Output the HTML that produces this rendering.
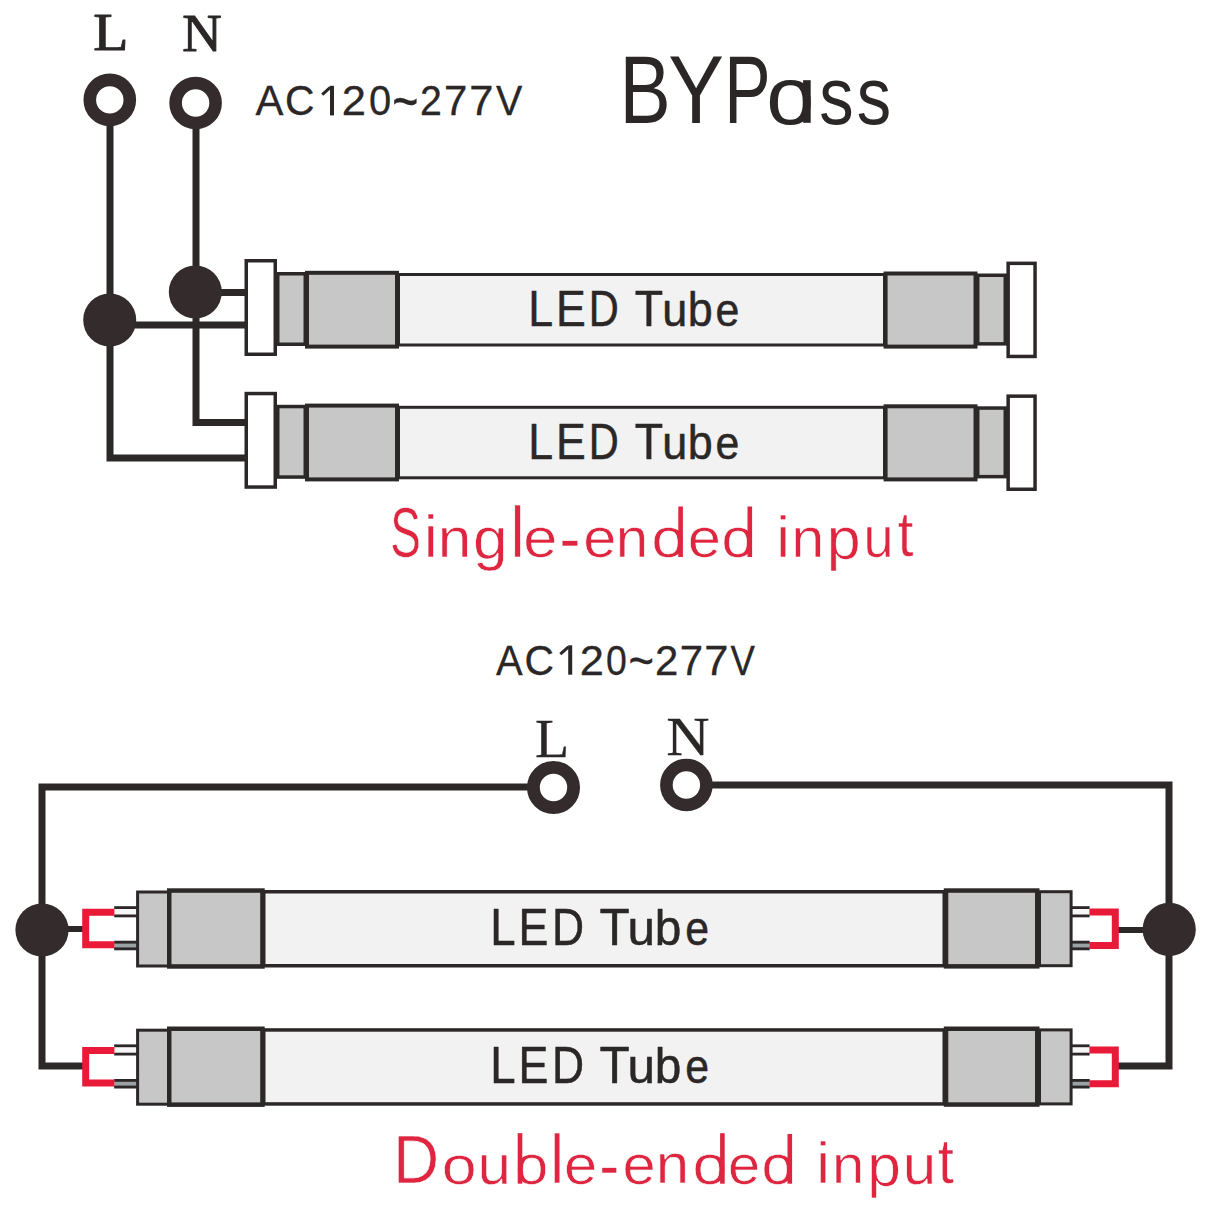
<!DOCTYPE html>
<html><head><meta charset="utf-8"><title>BYPass wiring</title>
<style>
html,body{margin:0;padding:0;background:#ffffff;width:1214px;height:1214px;overflow:hidden;font-family:"Liberation Sans",sans-serif;}
svg{display:block;}
</style></head><body>
<svg width="1214" height="1214" viewBox="0 0 1214 1214">
<rect width="1214" height="1214" fill="#ffffff"/>
<g font-family="Liberation Serif" fill="#2b2727" stroke="#2b2727" stroke-width="1.0" stroke-linejoin="round"><text transform="translate(93.34,50.00) scale(1.1069,1)" font-size="51.93">L</text><text transform="translate(182.33,50.50) scale(1.0361,1)" font-size="52.69">N</text></g>
<g font-family="Liberation Sans" fill="#2b2727" stroke="#2b2727" stroke-width="0.3" stroke-linejoin="round"><text transform="translate(255.52,115.20) scale(0.9912,1)" font-size="42.30">A</text><text transform="translate(285.02,115.28) scale(0.9620,1)" font-size="42.51">C</text><text transform="translate(341.71,115.20) scale(1.0252,1)" font-size="42.39">2</text><text transform="translate(368.94,115.28) scale(0.9398,1)" font-size="42.51">0</text><text transform="translate(392.28,121.41) scale(0.7530,1)" font-size="59.67">~</text><text transform="translate(420.12,115.20) scale(0.9269,1)" font-size="42.39">2</text><text transform="translate(444.05,115.20) scale(0.9933,1)" font-size="42.30">7</text><text transform="translate(469.27,115.20) scale(1.0298,1)" font-size="42.30">7</text><text transform="translate(496.03,115.20) scale(0.9339,1)" font-size="42.30">V</text></g>
<g font-family="Liberation Sans" fill="#2b2727"><text transform="translate(619.60,122.80) scale(0.7938,1)" font-size="96.80">B</text><text transform="translate(668.27,122.80) scale(0.8622,1)" font-size="96.80">Y</text><text transform="translate(724.30,122.80) scale(0.7181,1)" font-size="96.80">P</text><text transform="translate(766.16,123.81) scale(1.0688,1)" font-size="81.04">o</text><text transform="translate(819.19,123.81) scale(0.8467,1)" font-size="81.26">s</text><text transform="translate(856.69,123.81) scale(0.8467,1)" font-size="81.26">s</text></g><g fill="#2b2727"><rect x="803.10" y="80.20" width="7.60" height="42.60"/></g>
<path d="M330.00,85.80 H334.00 V115.40 H330.00 Z" fill="#2b2727"/>
<path d="M330.30,87.30 L322.20,94.68" stroke="#2b2727" stroke-width="3.0" fill="none"/>
<path d="M110,126 L110,458 L245,458" fill="none" stroke="#2d2828" stroke-width="7" stroke-linejoin="miter" stroke-linecap="square"/>
<path d="M196,128 L196,422.5 L245,422.5" fill="none" stroke="#2d2828" stroke-width="7" stroke-linejoin="miter" stroke-linecap="square"/>
<path d="M110,325 L245,325" fill="none" stroke="#2d2828" stroke-width="7" stroke-linejoin="miter" stroke-linecap="square"/>
<path d="M196,292.4 L245,292.4" fill="none" stroke="#2d2828" stroke-width="7" stroke-linejoin="miter" stroke-linecap="square"/>
<circle cx="109.8" cy="99.9" r="20.00" fill="#ffffff" stroke="#342b2d" stroke-width="12.60"/>
<circle cx="195.6" cy="103" r="20.00" fill="#ffffff" stroke="#342b2d" stroke-width="12.60"/>
<circle cx="109.7" cy="320" r="26.5" fill="#342b2d"/>
<circle cx="195.3" cy="292" r="26.5" fill="#342b2d"/>
<rect x="398.50" y="274.50" width="486.00" height="70.50" fill="#f2f2f2" stroke="#2d2828" stroke-width="3"/>
<rect x="277.75" y="273.75" width="27.50" height="70.50" fill="#c8c7c7" stroke="#2d2828" stroke-width="3.5"/>
<rect x="307.00" y="272.80" width="90.00" height="73.80" fill="#c8c7c7" stroke="#2d2828" stroke-width="4"/>
<rect x="246.25" y="260.75" width="29.00" height="93.50" fill="#ffffff" stroke="#2d2828" stroke-width="3.5"/>
<rect x="977.75" y="275.25" width="27.50" height="68.60" fill="#c8c7c7" stroke="#2d2828" stroke-width="3.5"/>
<rect x="885.60" y="273.50" width="89.90" height="73.10" fill="#c8c7c7" stroke="#2d2828" stroke-width="4"/>
<rect x="1008.15" y="263.35" width="26.90" height="93.10" fill="#ffffff" stroke="#2d2828" stroke-width="3.5"/>
<rect x="398.50" y="407.30" width="486.00" height="70.50" fill="#f2f2f2" stroke="#2d2828" stroke-width="3"/>
<rect x="277.75" y="406.55" width="27.50" height="70.50" fill="#c8c7c7" stroke="#2d2828" stroke-width="3.5"/>
<rect x="307.00" y="405.60" width="90.00" height="73.80" fill="#c8c7c7" stroke="#2d2828" stroke-width="4"/>
<rect x="246.25" y="393.55" width="29.00" height="93.50" fill="#ffffff" stroke="#2d2828" stroke-width="3.5"/>
<rect x="977.75" y="408.05" width="27.50" height="68.60" fill="#c8c7c7" stroke="#2d2828" stroke-width="3.5"/>
<rect x="885.60" y="406.30" width="89.90" height="73.10" fill="#c8c7c7" stroke="#2d2828" stroke-width="4"/>
<rect x="1008.15" y="396.15" width="26.90" height="93.10" fill="#ffffff" stroke="#2d2828" stroke-width="3.5"/>
<g font-family="Liberation Sans" fill="#2b2727" stroke="#2b2727" stroke-width="0.5" stroke-linejoin="round"><text transform="translate(528.23,326.00) scale(0.8858,1)" font-size="50.44">L</text><text transform="translate(555.94,326.00) scale(0.8853,1)" font-size="50.44">E</text><text transform="translate(588.79,326.00) scale(0.8235,1)" font-size="50.44">D</text><text transform="translate(634.76,326.00) scale(0.9196,1)" font-size="50.58">T</text><text transform="translate(662.28,325.94) scale(0.9563,1)" font-size="47.02">u</text><text transform="translate(687.80,325.93) scale(0.9371,1)" font-size="47.93">b</text><text transform="translate(715.48,325.95) scale(0.9276,1)" font-size="46.18">e</text></g>
<g font-family="Liberation Sans" fill="#2b2727" stroke="#2b2727" stroke-width="0.5" stroke-linejoin="round"><text transform="translate(528.23,459.20) scale(0.8858,1)" font-size="50.44">L</text><text transform="translate(555.94,459.20) scale(0.8853,1)" font-size="50.44">E</text><text transform="translate(588.79,459.20) scale(0.8235,1)" font-size="50.44">D</text><text transform="translate(634.76,459.20) scale(0.9196,1)" font-size="50.58">T</text><text transform="translate(662.28,459.14) scale(0.9563,1)" font-size="47.02">u</text><text transform="translate(687.80,459.13) scale(0.9371,1)" font-size="47.93">b</text><text transform="translate(715.48,459.15) scale(0.9276,1)" font-size="46.18">e</text></g>
<g font-family="Liberation Sans" fill="#de2640" stroke="#ffffff" stroke-width="0.6" stroke-linejoin="round"><text transform="translate(390.32,556.92) scale(0.6573,1)" font-size="69.77">S</text><text transform="translate(423.64,556.80) scale(1.0787,1)" font-size="59.07">i</text><text transform="translate(437.80,556.80) scale(1.0918,1)" font-size="55.20">n</text><text transform="translate(472.99,558.59) scale(1.0578,1)" font-size="58.86">g</text><text transform="translate(510.51,556.80) scale(0.8744,1)" font-size="72.87">l</text><text transform="translate(523.29,557.05) scale(1.0989,1)" font-size="55.85">e</text><text transform="translate(559.14,561.73) scale(0.8814,1)" font-size="72.96">-</text><text transform="translate(583.17,557.05) scale(1.0683,1)" font-size="55.85">e</text><text transform="translate(615.64,556.80) scale(1.0499,1)" font-size="55.38">n</text><text transform="translate(651.43,557.05) scale(1.0958,1)" font-size="55.85">o</text><text transform="translate(687.77,557.05) scale(1.0683,1)" font-size="55.85">e</text><text transform="translate(721.61,557.05) scale(1.0617,1)" font-size="55.85">o</text><text transform="translate(775.94,556.50) scale(1.0940,1)" font-size="58.24">i</text><text transform="translate(791.26,556.50) scale(1.0820,1)" font-size="54.82">n</text><text transform="translate(826.87,559.03) scale(1.0225,1)" font-size="59.59">p</text><text transform="translate(863.58,556.95) scale(0.9552,1)" font-size="56.68">u</text><text transform="translate(897.42,556.01) scale(0.9317,1)" font-size="62.20">t</text></g><g fill="#de2640"><rect x="678.30" y="506.50" width="4.60" height="50.50"/><rect x="747.50" y="506.50" width="4.60" height="50.50"/></g>
<g font-family="Liberation Sans" fill="#2b2727" stroke="#2b2727" stroke-width="0.3" stroke-linejoin="round"><text transform="translate(496.12,674.50) scale(0.9481,1)" font-size="42.15">A</text><text transform="translate(524.42,674.59) scale(0.9652,1)" font-size="42.37">C</text><text transform="translate(579.81,674.50) scale(1.0287,1)" font-size="42.25">2</text><text transform="translate(605.94,674.59) scale(0.8837,1)" font-size="42.37">0</text><text transform="translate(628.54,678.20) scale(0.8744,1)" font-size="49.99">~</text><text transform="translate(654.99,674.50) scale(0.9924,1)" font-size="42.25">2</text><text transform="translate(679.65,674.50) scale(0.9968,1)" font-size="42.15">7</text><text transform="translate(704.27,674.50) scale(1.0333,1)" font-size="42.15">7</text><text transform="translate(730.44,674.50) scale(0.8686,1)" font-size="42.15">V</text></g>
<g font-family="Liberation Serif" fill="#2b2727" stroke="#2b2727" stroke-width="0.3" stroke-linejoin="round"><text transform="translate(534.89,757.20) scale(1.0260,1)" font-size="54.52">L</text><text transform="translate(666.37,754.60) scale(1.0876,1)" font-size="55.13">N</text></g>
<path d="M568.20,645.30 H572.20 V674.70 H568.20 Z" fill="#2b2727"/>
<path d="M568.50,646.80 L560.30,654.12" stroke="#2b2727" stroke-width="3.0" fill="none"/>
<path d="M553,787 L42,787 L42,1066 L82,1066" fill="none" stroke="#2d2828" stroke-width="7" stroke-linejoin="miter" stroke-linecap="square"/>
<path d="M686,785 L1169,785 L1169,1066 L1120,1066" fill="none" stroke="#2d2828" stroke-width="7" stroke-linejoin="miter" stroke-linecap="square"/>
<path d="M42,929 L84,929" fill="none" stroke="#2d2828" stroke-width="6" stroke-linejoin="miter" stroke-linecap="square"/>
<path d="M1117,930 L1169,930" fill="none" stroke="#2d2828" stroke-width="6" stroke-linejoin="miter" stroke-linecap="square"/>
<circle cx="553.5" cy="787.5" r="20.10" fill="#ffffff" stroke="#342b2d" stroke-width="12.80"/>
<circle cx="686.4" cy="785" r="20.00" fill="#ffffff" stroke="#342b2d" stroke-width="12.60"/>
<circle cx="42" cy="930" r="26.6" fill="#342b2d"/>
<circle cx="1169.2" cy="929.4" r="26.6" fill="#342b2d"/>
<rect x="263.75" y="891.75" width="680.50" height="74.00" fill="#f2f2f2" stroke="#2d2828" stroke-width="3.5"/>
<rect x="114.20" y="906.20" width="22.80" height="11.10" fill="#f6f6f6"/>
<rect x="114.20" y="906.20" width="22.80" height="2.8" fill="#2d2828"/>
<rect x="114.20" y="914.50" width="22.80" height="2.8" fill="#2d2828"/>
<rect x="114.20" y="940.80" width="22.80" height="9.40" fill="#9aa3a3"/>
<rect x="114.20" y="940.80" width="22.80" height="2.8" fill="#2d2828"/>
<rect x="114.20" y="947.40" width="22.80" height="2.8" fill="#2d2828"/>
<path d="M114.4,912.2 H85.7 V944.7 H114.4" fill="none" stroke="#e91a38" stroke-width="7"/>
<rect x="137.60" y="892.00" width="30.90" height="74.00" fill="#c8c7c7" stroke="#2d2828" stroke-width="3"/>
<rect x="169.25" y="890.55" width="93.20" height="75.90" fill="#c8c7c7" stroke="#2d2828" stroke-width="4.5"/>
<rect x="1070.00" y="906.20" width="19.60" height="11.10" fill="#f6f6f6"/>
<rect x="1070.00" y="906.20" width="19.60" height="2.8" fill="#2d2828"/>
<rect x="1070.00" y="914.50" width="19.60" height="2.8" fill="#2d2828"/>
<rect x="1070.00" y="940.80" width="19.60" height="9.40" fill="#9aa3a3"/>
<rect x="1070.00" y="940.80" width="19.60" height="2.8" fill="#2d2828"/>
<rect x="1070.00" y="947.40" width="19.60" height="2.8" fill="#2d2828"/>
<path d="M1089.4,911.9 H1115.3 V945.5 H1089.4" fill="none" stroke="#e91a38" stroke-width="7"/>
<rect x="1039.50" y="891.70" width="31.60" height="74.00" fill="#c8c7c7" stroke="#2d2828" stroke-width="3"/>
<rect x="946.05" y="890.55" width="91.20" height="75.80" fill="#c8c7c7" stroke="#2d2828" stroke-width="4.5"/>
<rect x="263.75" y="1029.95" width="680.50" height="74.00" fill="#f2f2f2" stroke="#2d2828" stroke-width="3.5"/>
<rect x="114.20" y="1044.40" width="22.80" height="11.10" fill="#f6f6f6"/>
<rect x="114.20" y="1044.40" width="22.80" height="2.8" fill="#2d2828"/>
<rect x="114.20" y="1052.70" width="22.80" height="2.8" fill="#2d2828"/>
<rect x="114.20" y="1079.00" width="22.80" height="9.40" fill="#9aa3a3"/>
<rect x="114.20" y="1079.00" width="22.80" height="2.8" fill="#2d2828"/>
<rect x="114.20" y="1085.60" width="22.80" height="2.8" fill="#2d2828"/>
<path d="M114.4,1050.4 H85.7 V1082.9 H114.4" fill="none" stroke="#e91a38" stroke-width="7"/>
<rect x="137.60" y="1030.20" width="30.90" height="74.00" fill="#c8c7c7" stroke="#2d2828" stroke-width="3"/>
<rect x="169.25" y="1028.75" width="93.20" height="75.90" fill="#c8c7c7" stroke="#2d2828" stroke-width="4.5"/>
<rect x="1070.00" y="1044.40" width="19.60" height="11.10" fill="#f6f6f6"/>
<rect x="1070.00" y="1044.40" width="19.60" height="2.8" fill="#2d2828"/>
<rect x="1070.00" y="1052.70" width="19.60" height="2.8" fill="#2d2828"/>
<rect x="1070.00" y="1079.00" width="19.60" height="9.40" fill="#9aa3a3"/>
<rect x="1070.00" y="1079.00" width="19.60" height="2.8" fill="#2d2828"/>
<rect x="1070.00" y="1085.60" width="19.60" height="2.8" fill="#2d2828"/>
<path d="M1089.4,1050.1 H1115.3 V1083.7 H1089.4" fill="none" stroke="#e91a38" stroke-width="7"/>
<rect x="1039.50" y="1029.90" width="31.60" height="74.00" fill="#c8c7c7" stroke="#2d2828" stroke-width="3"/>
<rect x="946.05" y="1028.75" width="91.20" height="75.80" fill="#c8c7c7" stroke="#2d2828" stroke-width="4.5"/>
<g font-family="Liberation Sans" fill="#2b2727" stroke="#2b2727" stroke-width="0.5" stroke-linejoin="round"><text transform="translate(490.36,945.20) scale(0.8785,1)" font-size="51.89">L</text><text transform="translate(518.42,945.20) scale(0.8640,1)" font-size="51.89">E</text><text transform="translate(552.06,945.20) scale(0.8557,1)" font-size="51.89">D</text><text transform="translate(599.39,945.20) scale(0.9517,1)" font-size="52.04">T</text><text transform="translate(627.49,945.12) scale(1.0114,1)" font-size="48.88">u</text><text transform="translate(654.82,945.12) scale(0.9699,1)" font-size="49.29">b</text><text transform="translate(685.18,945.13) scale(0.8923,1)" font-size="48.01">e</text></g>
<g font-family="Liberation Sans" fill="#2b2727" stroke="#2b2727" stroke-width="0.5" stroke-linejoin="round"><text transform="translate(490.36,1083.20) scale(0.8785,1)" font-size="51.89">L</text><text transform="translate(518.42,1083.20) scale(0.8640,1)" font-size="51.89">E</text><text transform="translate(552.06,1083.20) scale(0.8557,1)" font-size="51.89">D</text><text transform="translate(599.39,1083.20) scale(0.9517,1)" font-size="52.04">T</text><text transform="translate(627.49,1083.12) scale(1.0114,1)" font-size="48.88">u</text><text transform="translate(654.82,1083.12) scale(0.9699,1)" font-size="49.29">b</text><text transform="translate(685.18,1083.13) scale(0.8923,1)" font-size="48.01">e</text></g>
<g font-family="Liberation Sans" fill="#de2640" stroke="#ffffff" stroke-width="0.6" stroke-linejoin="round"><text transform="translate(392.95,1183.40) scale(0.9387,1)" font-size="68.17">D</text><text transform="translate(441.77,1183.77) scale(1.1564,1)" font-size="54.21">o</text><text transform="translate(477.49,1183.76) scale(1.0918,1)" font-size="55.20">u</text><text transform="translate(515.21,1183.76) scale(1.0793,1)" font-size="54.94">o</text><text transform="translate(550.11,1183.40) scale(0.9197,1)" font-size="69.28">l</text><text transform="translate(564.07,1183.76) scale(1.0718,1)" font-size="55.67">e</text><text transform="translate(599.31,1189.23) scale(0.8309,1)" font-size="72.96">-</text><text transform="translate(622.57,1183.76) scale(1.0718,1)" font-size="55.67">e</text><text transform="translate(655.71,1183.40) scale(1.0912,1)" font-size="55.01">n</text><text transform="translate(692.47,1183.76) scale(1.1410,1)" font-size="54.94">o</text><text transform="translate(728.04,1183.76) scale(1.0412,1)" font-size="55.67">e</text><text transform="translate(761.61,1183.76) scale(1.0793,1)" font-size="54.94">o</text><text transform="translate(815.94,1183.40) scale(1.0993,1)" font-size="57.96">i</text><text transform="translate(831.94,1183.40) scale(1.0863,1)" font-size="53.52">n</text><text transform="translate(867.30,1186.13) scale(1.0313,1)" font-size="58.65">p</text><text transform="translate(902.69,1183.76) scale(1.0918,1)" font-size="55.20">u</text><text transform="translate(937.82,1182.91) scale(0.9266,1)" font-size="62.97">t</text></g><g fill="#de2640"><rect x="517.70" y="1133.20" width="4.60" height="50.50"/><rect x="720.10" y="1133.20" width="4.60" height="50.50"/><rect x="787.50" y="1134.00" width="4.60" height="49.70"/></g>
</svg>
</body></html>
